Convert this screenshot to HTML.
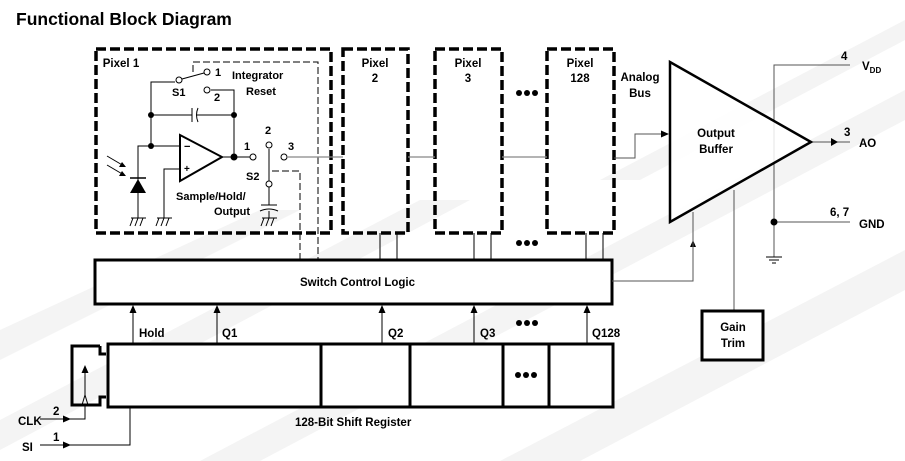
<!DOCTYPE html>
<html><head><meta charset="utf-8"><style>
html,body{margin:0;padding:0;background:#fff;}
svg{display:block;font-family:"Liberation Sans",Arial,sans-serif;font-weight:bold;}
</style></head><body>
<svg width="905" height="461" viewBox="0 0 905 461" xmlns="http://www.w3.org/2000/svg">
<defs>
<marker id="ar" markerWidth="8" markerHeight="8" refX="7" refY="4" orient="auto" markerUnits="userSpaceOnUse"><path d="M0,0.5 L8,4 L0,7.5 Z" fill="#000"/></marker>
</defs>
<!-- background stripes -->
<g fill="#f4f4f4">
<polygon points="0,330 260,210 300,210 0,360"/>
<polygon points="0,420 420,200 470,200 0,450"/>
<polygon points="200,461 905,90 905,120 260,461"/>
<polygon points="500,461 905,250 905,290 580,461"/>
<polygon points="600,180 905,20 905,40 640,180"/>
</g>
<text x="16" y="25" font-size="17.5">Functional Block Diagram</text>

<!-- pixel boxes -->
<g fill="none" stroke="#000" stroke-width="3.5" stroke-dasharray="10,4">
<rect x="96" y="49" width="235" height="184"/>
<rect x="343" y="49" width="65" height="184"/>
<rect x="435" y="49" width="67" height="184"/>
<rect x="547" y="49" width="67" height="184"/>
</g>
<g font-size="11.5" text-anchor="middle">
<text x="121" y="67">Pixel 1</text>
<text x="375" y="67">Pixel</text><text x="375" y="82">2</text>
<text x="468" y="67">Pixel</text><text x="468" y="82">3</text>
<text x="580" y="67">Pixel</text><text x="580" y="82">128</text>
</g>

<!-- pixel 1 internals -->
<g fill="none" stroke="#000" stroke-width="1">
<polyline points="151,145 151,82 175,82"/>
<line x1="182" y1="79" x2="204" y2="73"/>
<polyline points="211,90 234,90 234,157"/>
<line x1="151" y1="115" x2="192" y2="115"/><line x1="197" y1="115" x2="234" y2="115"/>
<path d="M192,108 L192,122 M198,108 Q195,115 198,122"/>
<polyline points="180,146 138,146 138,218"/>
<polyline points="180,169 164,169 164,218"/>
<line x1="222" y1="157" x2="250" y2="157"/>
<polyline points="269,149 269,181"/>
<line x1="269" y1="187" x2="269" y2="205"/>
<path d="M261,205 L277,205 M260,211 Q269,207 278,211"/>
<line x1="269" y1="211" x2="269" y2="218"/>
</g>
<polygon points="180,135 180,181 222,157" fill="#fff" stroke="#000" stroke-width="2"/>
<text x="184" y="150" font-size="11">−</text><text x="184" y="172" font-size="10">+</text>
<g fill="#000"><circle cx="151" cy="115" r="3"/><circle cx="234" cy="115" r="3"/><circle cx="151" cy="146" r="3"/><circle cx="234" cy="157" r="3.5"/></g>
<g fill="#fff" stroke="#000" stroke-width="1">
<circle cx="179" cy="80" r="3"/><circle cx="207" cy="72" r="3"/><circle cx="207" cy="90" r="3"/>
<circle cx="253" cy="157" r="3"/><circle cx="269" cy="145" r="3"/><circle cx="284" cy="157" r="3"/><circle cx="269" cy="184" r="3"/>
</g>
<!-- photodiode -->
<polygon points="130,193 146,193 138,179" fill="#000"/>
<line x1="130" y1="178" x2="146" y2="178" stroke="#000" stroke-width="1.5"/>
<g stroke="#000" stroke-width="1" fill="none"><line x1="107" y1="156" x2="124" y2="166"/><line x1="107" y1="165" x2="124" y2="175"/></g>
<polygon points="126,167 119,167 122,162" fill="#000"/><polygon points="126,176 119,176 122,171" fill="#000"/>
<!-- grounds -->
<g stroke="#000" stroke-width="1" fill="none">
<path d="M131,218 L146,218 M133,218 L130,226 M138,218 L135,226 M143,218 L140,226"/>
<path d="M157,218 L172,218 M159,218 L156,226 M164,218 L161,226 M169,218 L166,226"/>
<path d="M262,218 L277,218 M264,218 L261,226 M269,218 L266,226 M274,218 L271,226"/>
</g>
<!-- dashed control lines in pixel 1 -->
<g stroke="#000" stroke-width="1" fill="none" stroke-dasharray="7,3">
<polyline points="193,72 193,62 318,62 318,260"/>
<polyline points="272,171 300,171 300,260"/>
</g>
<g font-size="11">
<text x="172" y="96">S1</text><text x="215" y="76">1</text><text x="214" y="101">2</text>
<text x="232" y="79">Integrator</text><text x="246" y="95">Reset</text>
<text x="244" y="150">1</text><text x="265" y="134">2</text><text x="288" y="150">3</text>
<text x="246" y="180">S2</text>
<text x="176" y="200">Sample/Hold/</text><text x="214" y="215">Output</text>
</g>

<!-- analog bus line -->
<g stroke="#888" stroke-width="1.2" fill="none">
<line x1="287" y1="157" x2="343" y2="157"/>
<line x1="408" y1="157" x2="435" y2="157"/>
<line x1="502" y1="157" x2="547" y2="157"/>
</g>
<polyline points="614,158 635,158 635,134 668,134" stroke="#555" stroke-width="1" fill="none" marker-end="url(#ar)"/>
<text x="640" y="81" font-size="11.5" text-anchor="middle">Analog</text>
<text x="640" y="97" font-size="11.5" text-anchor="middle">Bus</text>

<!-- pixel stubs -->
<g stroke="#000" stroke-width="1">
<line x1="380" y1="233" x2="380" y2="260"/><line x1="397" y1="233" x2="397" y2="260"/>
<line x1="474" y1="233" x2="474" y2="260"/><line x1="491" y1="233" x2="491" y2="260"/>
<line x1="586" y1="233" x2="586" y2="260"/><line x1="603" y1="233" x2="603" y2="260"/>
</g>

<!-- switch control logic -->
<rect x="95" y="260" width="517" height="44" fill="#fff" stroke="#000" stroke-width="3"/>
<text x="300" y="286" font-size="11.5">Switch Control Logic</text>

<!-- Q arrows -->
<g stroke="#000" stroke-width="1" marker-end="url(#ar)">
<line x1="133" y1="344" x2="133" y2="306"/><line x1="217" y1="344" x2="217" y2="306"/>
<line x1="382" y1="344" x2="382" y2="306"/><line x1="474" y1="344" x2="474" y2="306"/>
<line x1="587" y1="344" x2="587" y2="306"/>
</g>
<g font-size="11.5">
<text x="139" y="337">Hold</text><text x="222" y="337">Q1</text><text x="388" y="337">Q2</text>
<text x="480" y="337">Q3</text><text x="592" y="337">Q128</text>
</g>

<!-- shift register -->
<rect x="108" y="344" width="505" height="63" fill="#fff" stroke="#000" stroke-width="3"/>
<g stroke="#000" stroke-width="3"><line x1="321" y1="344" x2="321" y2="407"/><line x1="410" y1="344" x2="410" y2="407"/><line x1="503" y1="344" x2="503" y2="407"/><line x1="549" y1="344" x2="549" y2="407"/></g>
<path d="M100,346 L72,346 L72,405 L100,405 L100,397 L106,397 M106,354 L100,354 L100,346" fill="none" stroke="#000" stroke-width="3"/>
<g stroke="#000" stroke-width="1" fill="none">
<path d="M82,405 L85,395 L88,405"/>
<line x1="85" y1="395" x2="85" y2="366" marker-end="url(#ar)"/>
<polyline points="85,405 85,419 70,419" />
<polyline points="130,407 130,445 70,445"/>
<line x1="40" y1="419" x2="70" y2="419" marker-end="url(#ar)"/>
<line x1="40" y1="445" x2="70" y2="445" marker-end="url(#ar)"/>
</g>
<g font-size="11.5"><text x="18" y="425">CLK</text><text x="22" y="451">SI</text>
<text x="53" y="415">2</text><text x="53" y="441">1</text>
<text x="295" y="426">128-Bit Shift Register</text></g>

<!-- dots -->
<g fill="#000"><circle cx="519" cy="93" r="3"/><circle cx="527" cy="93" r="3"/><circle cx="535" cy="93" r="3"/>
<circle cx="519" cy="243" r="3"/><circle cx="527" cy="243" r="3"/><circle cx="535" cy="243" r="3"/>
<circle cx="519" cy="323" r="3"/><circle cx="527" cy="323" r="3"/><circle cx="535" cy="323" r="3"/>
<circle cx="518" cy="375" r="3"/><circle cx="526" cy="375" r="3"/><circle cx="534" cy="375" r="3"/></g>

<!-- output buffer -->
<g stroke="#555" stroke-width="1" fill="none">
<polyline points="612,281 693,281 693,252"/>
<line x1="734" y1="311" x2="734" y2="190"/>
<polyline points="850,65 774,65 774,257"/>
<line x1="774" y1="222" x2="850" y2="222"/>
<line x1="811" y1="142" x2="850" y2="142"/>
</g>
<polygon points="690,247 696,247 693,240" fill="#000"/>
<line x1="693" y1="252" x2="693" y2="212" stroke="#555" stroke-width="1"/>
<polygon points="831,138 831,146 838,142" fill="#000"/>
<polygon points="670,62 670,222 811,142" fill="#fff" fill-opacity="0.85" stroke="#000" stroke-width="2.5"/>
<line x1="774" y1="65" x2="774" y2="110" stroke="#555" stroke-width="1"/>
<line x1="774" y1="166" x2="774" y2="257" stroke="#555" stroke-width="1"/>
<circle cx="774" cy="222" r="3.5" fill="#000"/>
<g stroke="#000" stroke-width="1"><line x1="766" y1="257" x2="782" y2="257"/><line x1="769" y1="260" x2="779" y2="260"/><line x1="772" y1="263" x2="776" y2="263"/></g>
<text x="716" y="137" font-size="11.5" text-anchor="middle">Output</text>
<text x="716" y="153" font-size="11.5" text-anchor="middle">Buffer</text>
<rect x="702" y="311" width="61" height="49" fill="#fff" stroke="#000" stroke-width="3"/>
<text x="733" y="331" font-size="11.5" text-anchor="middle">Gain</text>
<text x="733" y="347" font-size="11.5" text-anchor="middle">Trim</text>
<g font-size="11.5">
<text x="841" y="60">4</text><text x="862" y="70">V<tspan font-size="8" dy="3">DD</tspan></text>
<text x="844" y="136">3</text><text x="859" y="147">AO</text>
<text x="830" y="216">6, 7</text><text x="859" y="228">GND</text>
</g>
</svg>
</body></html>
